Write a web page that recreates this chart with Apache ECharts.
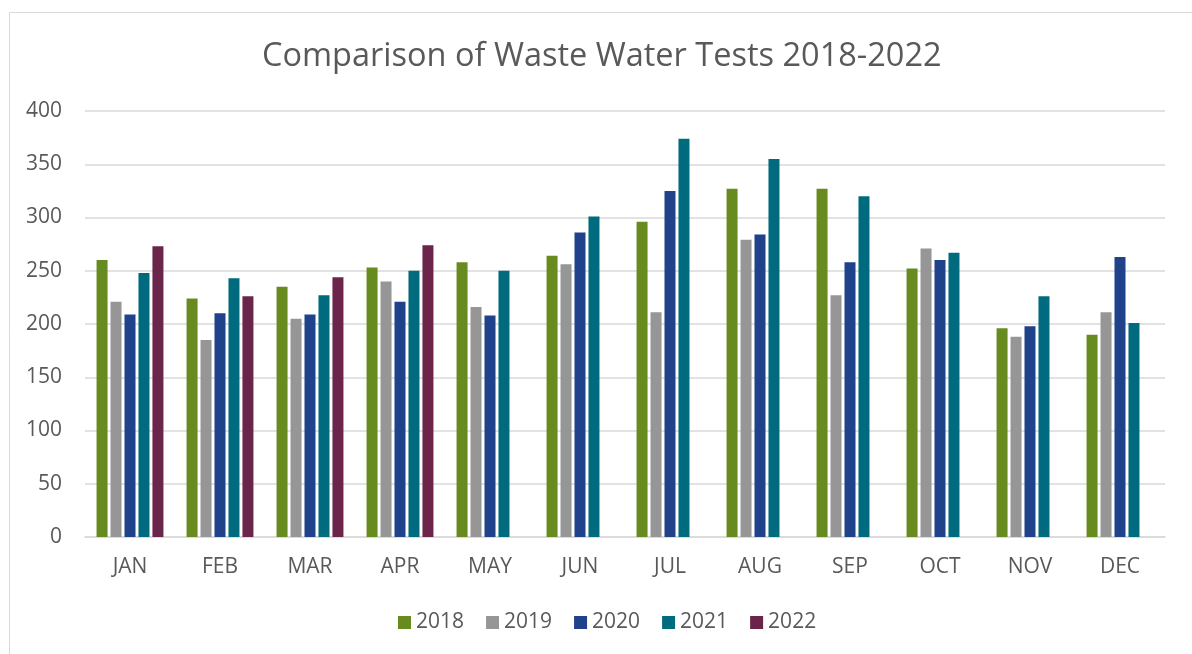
<!DOCTYPE html>
<html>
<head>
<meta charset="utf-8">
<script src="https://cdn.jsdelivr.net/npm/echarts@6/dist/echarts.min.js"></script>
<style>
  html, body { margin: 0; padding: 0; background: #fff; }
  #chart { width: 1192px; height: 654px; }
</style>
</head>
<body>
<div id="chart"></div>
<script>
var months = ['JAN', 'FEB', 'MAR', 'APR', 'MAY', 'JUN', 'JUL', 'AUG', 'SEP', 'OCT', 'NOV', 'DEC'];
var years = ['2018', '2019', '2020', '2021', '2022'];
var tests2018 = [260, 224, 235, 253, 258, 264, 296, 327, 327, 252, 196, 190];
var tests2019 = [221, 185, 205, 240, 216, 256, 211, 279, 227, 271, 188, 211];
var tests2020 = [209, 210, 209, 221, 208, 286, 325, 284, 258, 260, 198, 263];
var tests2021 = [248, 243, 227, 250, 250, 301, 374, 355, 320, 267, 226, 201];
var tests2022 = [273, 226, 244, 274, null, null, null, null, null, null, null, null];
var colors = ['#678b1f', '#969696', '#1f428a', '#006a7e', '#6b254b'];

var textColor = '#595959';
var fontName = '"Open Sans", "Liberation Sans", sans-serif';

var chart = echarts.init(document.getElementById('chart'));

var allData = [tests2018, tests2019, tests2020, tests2021, tests2022];
var series = [];
for (var i = 0; i < years.length; i++) {
    series.push({
        name: years[i],
        type: 'bar',
        data: allData[i],
        barWidth: 11,
        barGap: '27%',
        itemStyle: { color: colors[i] }
    });
}

var option = {
    animation: false,
    color: colors,
    textStyle: { fontFamily: fontName },
    // chart frame, right and bottom edges run off the picture
    graphic: [{
        type: 'rect',
        shape: { x: 9.5, y: 12.5, width: 1200, height: 660 },
        style: { fill: 'none', stroke: '#d9d9d9', lineWidth: 1 },
        silent: true
    }],
    title: {
        text: 'Comparison of Waste Water Tests 2018-2022',
        left: 257,
        top: 35,
        textStyle: {
            color: textColor,
            fontSize: 32.5,
            fontWeight: 'normal',
            fontFamily: fontName
        }
    },
    legend: {
        data: years,
        bottom: 16,
        left: 393,
        itemWidth: 13,
        itemHeight: 13,
        itemGap: 22,
        icon: 'rect',
        textStyle: { color: textColor, fontSize: 21, fontFamily: fontName }
    },
    grid: {
        left: 85,
        right: 27,
        top: 111,
        bottom: 117,
        containLabel: false
    },
    xAxis: {
        type: 'category',
        data: months,
        axisTick: { show: false },
        axisLine: { lineStyle: { color: '#d9d9d9', width: 1.5 } },
        axisLabel: { color: textColor, fontSize: 21, margin: 20, fontFamily: fontName }
    },
    yAxis: {
        type: 'value',
        min: 0,
        max: 400,
        interval: 50,
        axisLine: { show: false },
        axisTick: { show: false },
        axisLabel: { color: textColor, fontSize: 21, margin: 23, fontFamily: fontName },
        splitLine: { lineStyle: { color: '#d9d9d9', width: 1.5 } }
    },
    series: series
};

chart.setOption(option);
</script>
</body>
</html>
